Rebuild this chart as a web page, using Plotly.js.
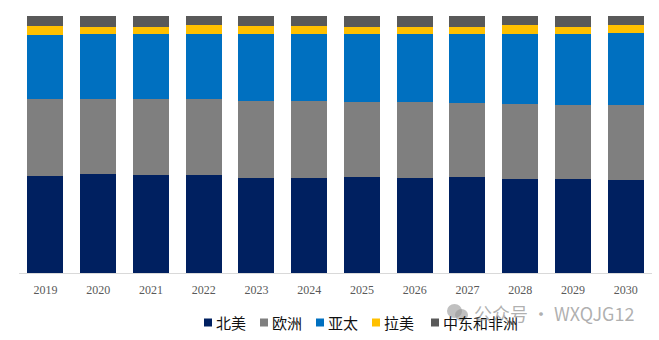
<!DOCTYPE html>
<html>
<head>
<meta charset="utf-8">
<script src="https://cdn.plot.ly/plotly-3.0.1.min.js"></script>
<style>html,body{margin:0;padding:0;background:#fff;}#chart{width:659px;height:340px;}</style>
</head>
<body>
<div id="chart"></div>
<script>
const years = ["2019","2020","2021","2022","2023","2024","2025","2026","2027","2028","2029","2030"];
const seriesNames = ["北美","欧洲","亚太","拉美","中东和非洲"];
const northAmerica = [37.9, 38.5, 38.1, 38.1, 37.1, 37.1, 37.4, 36.8, 37.4, 36.6, 36.6, 36.3];
const europe       = [29.8, 29.2, 29.6, 29.6, 30.0, 30.0, 29.1, 29.6, 28.9, 29.3, 28.9, 29.2];
const asiaPacific  = [25.0, 25.3, 25.3, 25.3, 25.9, 25.9, 26.6, 26.6, 26.7, 27.1, 27.5, 27.8];
const latinAmerica = [3.3, 2.8, 2.8, 3.4, 3.2, 3.2, 2.8, 2.8, 2.8, 3.4, 2.8, 3.1];
const middleEastAfrica = [4.0, 4.2, 4.2, 3.6, 3.8, 3.8, 4.1, 4.2, 4.2, 3.6, 4.2, 3.6];
const watermarkText = "公众号 · WXQJG12";

const colors = ["#002060", "#7F7F7F", "#0070C0", "#FFC000", "#595959"];
const values = [northAmerica, europe, asiaPacific, latinAmerica, middleEastAfrica];

const traces = values.map((v, i) => ({
  type: "bar",
  x: years,
  y: v,
  name: seriesNames[i],
  marker: {color: colors[i], line: {width: 0}},
  hoverinfo: "x+y+name"
}));

const L = 19, R = 7, T = 16, B = 67, W = 659, H = 340;
const pw = W - L - R, ph = H - T - B;
const px = x => (x - L) / pw;
const py = y => (H - B - y) / ph;

// custom legend
const legendSquareX = [204, 260, 316, 372, 431];
const shapes = [];
const annotations = [];
seriesNames.forEach((n, i) => {
  const x0 = legendSquareX[i];
  shapes.push({type: "rect", xref: "paper", yref: "paper",
    x0: px(x0), x1: px(x0 + 8), y0: py(326.5), y1: py(318.5),
    fillcolor: colors[i], line: {width: 0}});
  annotations.push({xref: "paper", yref: "paper", x: px(x0 + 10), y: py(322.5),
    xanchor: "left", yanchor: "middle", showarrow: false, text: n,
    font: {family: "Noto Sans CJK SC", size: 15, color: "#111111"}});
});
// watermark
shapes.push({type: "circle", xref: "paper", yref: "paper",
  x0: px(447), x1: px(462), y0: py(318), y1: py(304),
  fillcolor: "rgba(150,150,150,0.6)", line: {width: 0}});
shapes.push({type: "circle", xref: "paper", yref: "paper",
  x0: px(455), x1: px(468), y0: py(321), y1: py(309),
  fillcolor: "rgba(150,150,150,0.6)", line: {width: 0}});
annotations.push({xref: "paper", yref: "paper", x: px(472), y: py(312.5),
  xanchor: "left", yanchor: "middle", showarrow: false, text: watermarkText,
  font: {family: "Noto Sans CJK SC", size: 18, color: "rgba(150,150,150,0.75)"}});

const layout = {
  width: W, height: H,
  margin: {l: L, r: R, t: T, b: B, pad: 0},
  paper_bgcolor: "#ffffff", plot_bgcolor: "#ffffff",
  barmode: "stack", bargap: 0.32,
  showlegend: false,
  xaxis: {type: "category", showline: true, linecolor: "#D9D9D9", linewidth: 1,
    showgrid: false, zeroline: false, ticks: "", ticklabelstandoff: 6,
    tickfont: {family: "Liberation Serif", size: 12, color: "#595959"}},
  yaxis: {range: [0, 100], visible: false, showgrid: false, zeroline: false, fixedrange: true},
  shapes: shapes,
  annotations: annotations
};

Plotly.newPlot("chart", traces, layout, {displayModeBar: false, staticPlot: true});
</script>
</body>
</html>
